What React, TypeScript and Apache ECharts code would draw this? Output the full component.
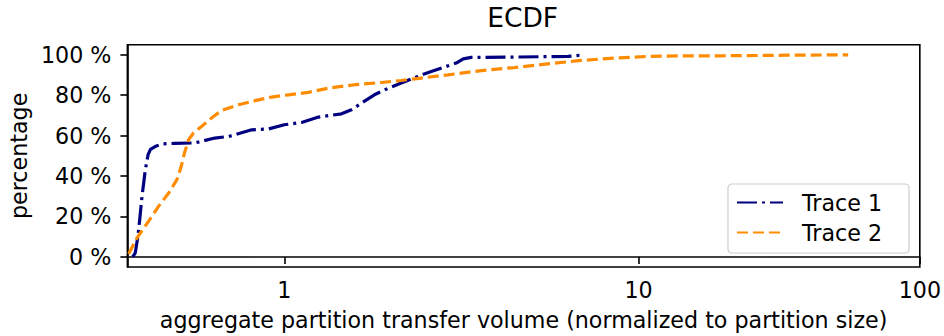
import React, { useEffect, useRef } from "react";
import * as echarts from "echarts";

// Trace 1 (navy, dash-dot)
const trace1X = [0.43, 0.436, 0.442, 0.446, 0.452, 0.46, 0.467, 0.473, 0.485, 0.503, 0.54, 0.603, 0.673, 0.728, 0.829, 0.913, 1.0, 1.106, 1.222, 1.402, 1.488, 1.582, 1.711, 1.865, 2.02, 2.291, 2.44, 2.719, 2.862, 2.995, 3.154, 4.187, 6.049, 6.762];
const trace1Y = [0, 2, 10, 17.6, 30, 43, 50.6, 53.2, 54.6, 55.9, 56.2, 56.4, 58.8, 59.6, 62.9, 63.3, 65.4, 66.5, 69.2, 70.8, 72.8, 76.1, 80.2, 83.5, 86, 90, 91.7, 94.6, 95.9, 98, 98.7, 98.9, 99.2, 100];

// Trace 2 (orange, dashed)
const trace2X = [0.421, 0.44, 0.468, 0.494, 0.522, 0.546, 0.559, 0.569, 0.582, 0.598, 0.626, 0.668, 0.7, 0.769, 0.845, 0.929, 1.024, 1.15, 1.295, 1.518, 1.787, 2.02, 2.291, 2.714, 3.37, 4.196, 5.259, 6.621, 8.383, 10.68, 13.68, 18.57, 31.6, 52.8];
const trace2Y = [1.5, 9.4, 17.6, 25, 31.6, 38.2, 44.8, 51.4, 58, 61.3, 64.6, 69.5, 72.5, 75.3, 77.3, 79.1, 80.2, 81.4, 83.5, 85.2, 86.3, 87.3, 88.5, 90.1, 92.2, 93.7, 95.5, 97.2, 98.4, 99.2, 99.5, 99.5, 99.8, 100];

const seriesNames = ["Trace 1", "Trace 2"];
const xTickValues = [1, 10, 100];
const yTickValues = [0, 20, 40, 60, 80, 100];
const X_MIN = 0.418;
const X_MAX = 100;
const Y_MIN = -5;
const Y_MAX = 105;

// axis transform (compressed log-like scale of the original)
const fwd = (x: number) => -Math.pow(x, -0.1);
const inv = (u: number) => Math.pow(-u, -10);

const FONT = "DejaVu Sans";
const FS = 22.2;

export default function App() {
  const ref = useRef<HTMLDivElement>(null);
  useEffect(() => {
    document.body.style.margin = "0";
    if (!ref.current) return;
    const chart = echarts.init(ref.current, undefined, { renderer: "svg" });
    const d1 = trace1X.map((x, i) => [fwd(x), trace1Y[i]]);
    const d2 = trace2X.map((x, i) => [fwd(x), trace2Y[i]]);
    chart.setOption({
      animation: false,
      backgroundColor: "#fff",
      textStyle: { fontFamily: FONT },
      title: {
        text: "ECDF",
        left: 522.6,
        textAlign: "center",
        top: 4,
        padding: 0,
        textStyle: { fontFamily: FONT, fontSize: 26.5, fontWeight: "normal", color: "#000" },
      },
      grid: {
        left: 125.3,
        right: 24,
        top: 44.7,
        bottom: 68.7,
        show: true,
        borderColor: "#000",
        borderWidth: 1.6,
        backgroundColor: "transparent",
      },
      legend: {
        orient: "vertical",
        right: 35,
        top: 184,
        backgroundColor: "rgba(255,255,255,0.8)",
        borderColor: "#cccccc",
        borderWidth: 1.2,
        borderRadius: 4,
        padding: [7, 27, 9, 8],
        itemWidth: 46,
        itemHeight: 14,
        itemGap: 7,
        itemStyle: { opacity: 0 },
        textStyle: { fontFamily: FONT, fontSize: FS, color: "#000", lineHeight: 23, padding: [0, 0, 0, 14] },
        data: seriesNames,
      },
      xAxis: {
        type: "value",
        min: fwd(X_MIN),
        max: fwd(X_MAX),
        name: "aggregate partition transfer volume (normalized to partition size)",
        nameLocation: "middle",
        nameGap: 42,
        nameTextStyle: { fontFamily: FONT, fontSize: FS, color: "#000" },
        axisLine: { show: true, lineStyle: { color: "#000", width: 1.6 } },
        axisTick: {
          show: true,
          length: 7,
          lineStyle: { color: "#000", width: 1.6 },
          customValues: xTickValues.map(fwd),
        },
        axisLabel: {
          show: true,
          margin: 12,
          fontFamily: FONT,
          fontSize: FS,
          color: "#000",
          customValues: xTickValues.map(fwd),
          formatter: (v: number) => String(Math.round(inv(v))),
        },
        splitLine: { show: false },
      },
      yAxis: {
        type: "value",
        min: Y_MIN,
        max: Y_MAX,
        name: "percentage",
        nameLocation: "middle",
        nameGap: 90,
        nameTextStyle: { fontFamily: FONT, fontSize: FS, color: "#000" },
        axisLine: { show: true, lineStyle: { color: "#000", width: 1.6 } },
        axisTick: {
          show: true,
          length: 7,
          lineStyle: { color: "#000", width: 1.6 },
          customValues: yTickValues,
        },
        axisLabel: {
          show: true,
          margin: 16,
          fontFamily: FONT,
          fontSize: FS,
          color: "#000",
          customValues: yTickValues,
          formatter: (v: number) => `${v} %`,
        },
        splitLine: { show: false },
      },
      series: [
        {
          name: seriesNames[0],
          type: "line",
          data: d1,
          symbol: "none",
          showSymbol: false,
          clip: true,
          lineStyle: { color: "#000080", width: 3.2, type: [20, 5, 3, 5] },
          itemStyle: { color: "#000080" },
        },
        {
          name: seriesNames[1],
          type: "line",
          data: d2,
          symbol: "none",
          showSymbol: false,
          clip: true,
          lineStyle: { color: "#ff8c00", width: 3.2, type: [11, 5] },
          itemStyle: { color: "#ff8c00" },
        },
      ],
    });
    return () => chart.dispose();
  }, []);
  return <div ref={ref} style={{ width: 944, height: 336 }} />;
}
